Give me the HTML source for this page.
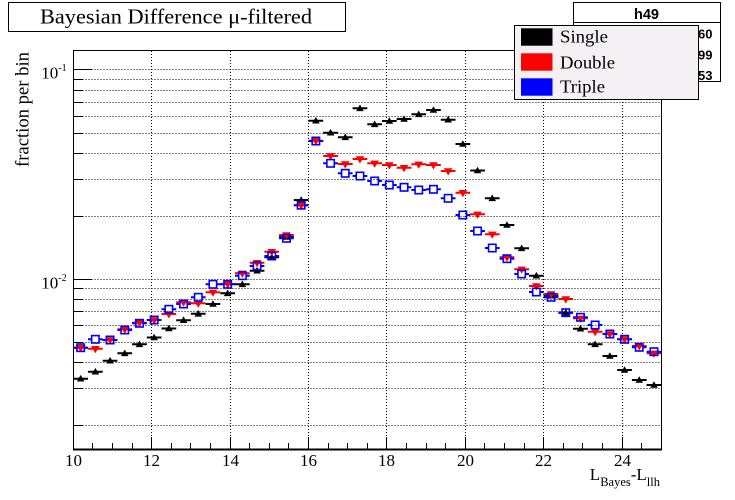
<!DOCTYPE html>
<html><head><meta charset="utf-8"><style>
html,body{margin:0;padding:0;background:#fff;}
svg{display:block;}
</style></head><body>
<svg width="735" height="500" viewBox="0 0 735 500" xmlns="http://www.w3.org/2000/svg">
<defs>
<path id="tu" d="M0-3.8L3.8 2.8H-3.8Z" fill="#000"/>
<path id="td" d="M0 4.5L4.3-2.7H-4.3Z" fill="#f00"/>
<rect id="sq" x="-3.7" y="-3.7" width="7.4" height="7.4" fill="none" stroke="#00f" stroke-width="1.6"/>
</defs>
<rect width="735" height="500" fill="#fff"/>
<!-- grid -->
<g stroke="#000" stroke-width="1" stroke-dasharray="1 2" fill="none">
<path d="M73.5 425.5H661M73.5 388.5H661M73.5 362.5H661M73.5 342.5H661M73.5 325.5H661M73.5 311.5H661M73.5 299.5H661M73.5 288.5H661M73.5 279.5H661M73.5 216.5H661M73.5 179.5H661M73.5 153.5H661M73.5 133.5H661M73.5 116.5H661M73.5 102.5H661M73.5 90.5H661M73.5 79.5H661M73.5 69.5H661"/>
<path d="M151.5 51V449M230.5 51V449M308.5 51V449M386.5 51V449M465.5 51V449M543.5 51V449M622.5 51V449"/>
</g>
<!-- frame -->
<rect x="73.5" y="50.5" width="588" height="399" fill="none" stroke="#000" stroke-width="1"/>
<path d="M73 449.5H662" stroke="#000" stroke-width="2"/>
<!-- y ticks -->
<g stroke="#000" stroke-width="1">
<path d="M73.5 279.5H91.5M73.5 69.5H91.5"/>
<path d="M73.5 425.5H83.5M73.5 388.5H83.5M73.5 362.5H83.5M73.5 342.5H83.5M73.5 325.5H83.5M73.5 311.5H83.5M73.5 299.5H83.5M73.5 288.5H83.5M73.5 216.5H83.5M73.5 179.5H83.5M73.5 153.5H83.5M73.5 133.5H83.5M73.5 116.5H83.5M73.5 102.5H83.5M73.5 90.5H83.5M73.5 79.5H83.5"/>
<!-- x ticks -->
<path d="M151.5 449V437M230.5 449V437M308.5 449V437M386.5 449V437M465.5 449V437M543.5 449V437M622.5 449V437"/>
<path d="M92.5 449V443M112.5 449V443M132.5 449V443M171.5 449V443M190.5 449V443M210.5 449V443M249.5 449V443M269.5 449V443M288.5 449V443M328.5 449V443M347.5 449V443M367.5 449V443M406.5 449V443M426.5 449V443M445.5 449V443M484.5 449V443M504.5 449V443M524.5 449V443M563.5 449V443M582.5 449V443M602.5 449V443M641.5 449V443"/>
</g>
<!-- black series -->
<path stroke="#000" stroke-width="2" fill="none" d="M73.3 378.7h14.7M88 371.7h14.7M102.7 360.7h14.7M117.4 353.3h14.7M132.1 344.3h14.7M146.8 337.5h14.7M161.5 328.5h14.7M176.2 320.2h14.7M190.9 313.8h14.7M205.6 304h14.7M220.3 293.3h14.7M235 284.3h14.7M249.7 270.7h14.7M264.4 257.3h14.7M279.1 237h14.7M293.8 200h14.7M308.5 120.7h14.7M323.2 132.7h14.7M337.9 137.3h14.7M352.6 108.3h14.7M367.3 124.3h14.7M382 121h14.7M396.7 119h14.7M411.4 114.3h14.7M426.1 110h14.7M440.8 119.7h14.7M455.5 144h14.7M470.2 170.5h14.7M484.9 198.3h14.7M499.6 225h14.7M514.3 248.3h14.7M529 275.7h14.7M543.7 295.7h14.7M558.4 312.7h14.7M573.1 328.7h14.7M587.8 344.3h14.7M602.5 356h14.7M617.2 370h14.7M631.9 380h14.7M646.6 385h14.7"/>
<g>
<use href="#tu" x="80.65" y="378.7"/><use href="#tu" x="95.35" y="371.7"/><use href="#tu" x="110.05" y="360.7"/><use href="#tu" x="124.75" y="353.3"/><use href="#tu" x="139.45" y="344.3"/><use href="#tu" x="154.15" y="337.5"/><use href="#tu" x="168.85" y="328.5"/><use href="#tu" x="183.55" y="320.2"/><use href="#tu" x="198.25" y="313.8"/><use href="#tu" x="212.95" y="304"/><use href="#tu" x="227.65" y="293.3"/><use href="#tu" x="242.35" y="284.3"/><use href="#tu" x="257.05" y="270.7"/><use href="#tu" x="271.75" y="257.3"/><use href="#tu" x="286.45" y="237"/><use href="#tu" x="301.15" y="200"/><use href="#tu" x="315.85" y="120.7"/><use href="#tu" x="330.55" y="132.7"/><use href="#tu" x="345.25" y="137.3"/><use href="#tu" x="359.95" y="108.3"/><use href="#tu" x="374.65" y="124.3"/><use href="#tu" x="389.35" y="121"/><use href="#tu" x="404.05" y="119"/><use href="#tu" x="418.75" y="114.3"/><use href="#tu" x="433.45" y="110"/><use href="#tu" x="448.15" y="119.7"/><use href="#tu" x="462.85" y="144"/><use href="#tu" x="477.55" y="170.5"/><use href="#tu" x="492.25" y="198.3"/><use href="#tu" x="506.95" y="225"/><use href="#tu" x="521.65" y="248.3"/><use href="#tu" x="536.35" y="275.7"/><use href="#tu" x="551.05" y="295.7"/><use href="#tu" x="565.75" y="312.7"/><use href="#tu" x="580.45" y="328.7"/><use href="#tu" x="595.15" y="344.3"/><use href="#tu" x="609.85" y="356"/><use href="#tu" x="624.55" y="370"/><use href="#tu" x="639.25" y="380"/><use href="#tu" x="653.95" y="385"/>
</g>
<!-- red series -->
<path stroke="#f00" stroke-width="2" fill="none" d="M73.3 347.7h14.7M88 348.7h14.7M102.7 340h14.7M117.4 329.3h14.7M132.1 322.7h14.7M146.8 320h14.7M161.5 314h14.7M176.2 302.3h14.7M190.9 303.2h14.7M205.6 292.3h14.7M220.3 284h14.7M235 273.3h14.7M249.7 262.7h14.7M264.4 251.7h14.7M279.1 235h14.7M293.8 205.3h14.7M308.5 140.7h14.7M323.2 156h14.7M337.9 164h14.7M352.6 159h14.7M367.3 163.3h14.7M382 165h14.7M396.7 167.7h14.7M411.4 164.3h14.7M426.1 165h14.7M440.8 171h14.7M455.5 192.7h14.7M470.2 214.3h14.7M484.9 234.3h14.7M499.6 257.3h14.7M514.3 269.3h14.7M529 286h14.7M543.7 294h14.7M558.4 299h14.7M573.1 318.3h14.7M587.8 331.7h14.7M602.5 334h14.7M617.2 339.3h14.7M631.9 346h14.7M646.6 353.3h14.7"/>
<g>
<use href="#td" x="80.65" y="347.7"/><use href="#td" x="95.35" y="348.7"/><use href="#td" x="110.05" y="340"/><use href="#td" x="124.75" y="329.3"/><use href="#td" x="139.45" y="322.7"/><use href="#td" x="154.15" y="320"/><use href="#td" x="168.85" y="314"/><use href="#td" x="183.55" y="302.3"/><use href="#td" x="198.25" y="303.2"/><use href="#td" x="212.95" y="292.3"/><use href="#td" x="227.65" y="284"/><use href="#td" x="242.35" y="273.3"/><use href="#td" x="257.05" y="262.7"/><use href="#td" x="271.75" y="251.7"/><use href="#td" x="286.45" y="235"/><use href="#td" x="301.15" y="205.3"/><use href="#td" x="315.85" y="140.7"/><use href="#td" x="330.55" y="156"/><use href="#td" x="345.25" y="164"/><use href="#td" x="359.95" y="159"/><use href="#td" x="374.65" y="163.3"/><use href="#td" x="389.35" y="165"/><use href="#td" x="404.05" y="167.7"/><use href="#td" x="418.75" y="164.3"/><use href="#td" x="433.45" y="165"/><use href="#td" x="448.15" y="171"/><use href="#td" x="462.85" y="192.7"/><use href="#td" x="477.55" y="214.3"/><use href="#td" x="492.25" y="234.3"/><use href="#td" x="506.95" y="257.3"/><use href="#td" x="521.65" y="269.3"/><use href="#td" x="536.35" y="286"/><use href="#td" x="551.05" y="294"/><use href="#td" x="565.75" y="299"/><use href="#td" x="580.45" y="318.3"/><use href="#td" x="595.15" y="331.7"/><use href="#td" x="609.85" y="334"/><use href="#td" x="624.55" y="339.3"/><use href="#td" x="639.25" y="346"/><use href="#td" x="653.95" y="353.3"/>
</g>
<!-- blue series -->
<path stroke="#00f" stroke-width="2" fill="none" d="M73.3 347.7h3.1m8.5 0h3.1M88 339.3h3.1m8.5 0h3.1M102.7 340h3.1m8.5 0h3.1M117.4 330h3.1m8.5 0h3.1M132.1 323.3h3.1m8.5 0h3.1M146.8 320h3.1m8.5 0h3.1M161.5 309.3h3.1m8.5 0h3.1M176.2 304h3.1m8.5 0h3.1M190.9 297.3h3.1m8.5 0h3.1M205.6 284.3h3.1m8.5 0h3.1M220.3 284.3h3.1m8.5 0h3.1M235 275.7h3.1m8.5 0h3.1M249.7 266h3.1m8.5 0h3.1M264.4 256h3.1m8.5 0h3.1M279.1 238.3h3.1m8.5 0h3.1M293.8 205.2h3.1m8.5 0h3.1M308.5 141h3.1m8.5 0h3.1M323.2 163.3h3.1m8.5 0h3.1M337.9 173.3h3.1m8.5 0h3.1M352.6 176h3.1m8.5 0h3.1M367.3 181h3.1m8.5 0h3.1M382 185h3.1m8.5 0h3.1M396.7 187.3h3.1m8.5 0h3.1M411.4 190h3.1m8.5 0h3.1M426.1 189.3h3.1m8.5 0h3.1M440.8 198.3h3.1m8.5 0h3.1M455.5 215h3.1m8.5 0h3.1M470.2 231h3.1m8.5 0h3.1M484.9 248h3.1m8.5 0h3.1M499.6 258.7h3.1m8.5 0h3.1M514.3 274h3.1m8.5 0h3.1M529 292h3.1m8.5 0h3.1M543.7 297.3h3.1m8.5 0h3.1M558.4 312.7h3.1m8.5 0h3.1M573.1 317.3h3.1m8.5 0h3.1M587.8 325h3.1m8.5 0h3.1M602.5 334h3.1m8.5 0h3.1M617.2 339.3h3.1m8.5 0h3.1M631.9 347.3h3.1m8.5 0h3.1M646.6 351.7h3.1m8.5 0h3.1"/>
<g>
<use href="#sq" x="80.65" y="347.7"/><use href="#sq" x="95.35" y="339.3"/><use href="#sq" x="110.05" y="340"/><use href="#sq" x="124.75" y="330"/><use href="#sq" x="139.45" y="323.3"/><use href="#sq" x="154.15" y="320"/><use href="#sq" x="168.85" y="309.3"/><use href="#sq" x="183.55" y="304"/><use href="#sq" x="198.25" y="297.3"/><use href="#sq" x="212.95" y="284.3"/><use href="#sq" x="227.65" y="284.3"/><use href="#sq" x="242.35" y="275.7"/><use href="#sq" x="257.05" y="266"/><use href="#sq" x="271.75" y="256"/><use href="#sq" x="286.45" y="238.3"/><use href="#sq" x="301.15" y="205.2"/><use href="#sq" x="315.85" y="141"/><use href="#sq" x="330.55" y="163.3"/><use href="#sq" x="345.25" y="173.3"/><use href="#sq" x="359.95" y="176"/><use href="#sq" x="374.65" y="181"/><use href="#sq" x="389.35" y="185"/><use href="#sq" x="404.05" y="187.3"/><use href="#sq" x="418.75" y="190"/><use href="#sq" x="433.45" y="189.3"/><use href="#sq" x="448.15" y="198.3"/><use href="#sq" x="462.85" y="215"/><use href="#sq" x="477.55" y="231"/><use href="#sq" x="492.25" y="248"/><use href="#sq" x="506.95" y="258.7"/><use href="#sq" x="521.65" y="274"/><use href="#sq" x="536.35" y="292"/><use href="#sq" x="551.05" y="297.3"/><use href="#sq" x="565.75" y="312.7"/><use href="#sq" x="580.45" y="317.3"/><use href="#sq" x="595.15" y="325"/><use href="#sq" x="609.85" y="334"/><use href="#sq" x="624.55" y="339.3"/><use href="#sq" x="639.25" y="347.3"/><use href="#sq" x="653.95" y="351.7"/>
</g>
<!-- axis labels -->
<g font-family="'Liberation Serif', serif" fill="#000">
<g font-size="17" text-anchor="middle">
<text x="73.5" y="466">10</text><text x="151.5" y="466">12</text><text x="230.5" y="466">14</text><text x="308.5" y="466">16</text><text x="386.5" y="466">18</text><text x="465.5" y="466">20</text><text x="543.5" y="466">22</text><text x="622.5" y="466">24</text>
</g>
<text x="58.3" y="78.5" font-size="17" text-anchor="end">10</text>
<text x="58.3" y="71" font-size="10">-1</text>
<text x="58.3" y="288.5" font-size="17" text-anchor="end">10</text>
<text x="58.3" y="281" font-size="10">-2</text>
<text transform="translate(28.5,52) rotate(-90)" font-size="18.5" text-anchor="end" textLength="115" lengthAdjust="spacingAndGlyphs">fraction per bin</text>
<text x="660" y="480" font-size="17" text-anchor="end">L<tspan font-size="12.5" dy="6">Bayes</tspan><tspan dy="-6">-L</tspan><tspan font-size="12.5" dy="6">llh</tspan></text>
</g>
<!-- title box -->
<rect x="8.5" y="2.5" width="337" height="29" fill="#fff" stroke="#000" stroke-width="1"/>
<text x="176" y="23.5" font-family="'Liberation Serif', serif" font-size="21.5" text-anchor="middle" textLength="272" lengthAdjust="spacingAndGlyphs">Bayesian Difference μ-filtered</text>
<!-- stats box -->
<rect x="573.5" y="2.5" width="147" height="79" fill="#fff" stroke="#000" stroke-width="1"/>
<path d="M573.5 22.5H720.5" stroke="#000" stroke-width="1"/>
<g font-family="'Liberation Sans', sans-serif" font-weight="bold" fill="#000">
<text x="646.5" y="19" font-size="14.5" text-anchor="middle">h49</text>
<text x="578" y="38.3" font-size="13">Entries</text><text x="712.5" y="38.3" font-size="13" text-anchor="end">12560</text>
<text x="578" y="59.5" font-size="13">Mean</text><text x="712.5" y="59.5" font-size="13" text-anchor="end">17.99</text>
<text x="578" y="80" font-size="13">RMS</text><text x="712.5" y="80" font-size="13" text-anchor="end">2.053</text>
</g>
<!-- legend -->
<rect x="514.5" y="25.5" width="184" height="74" fill="#f4f0f4" stroke="#000" stroke-width="1"/>
<rect x="521" y="28.3" width="31.5" height="17.4" fill="#000"/>
<rect x="521" y="53.3" width="31.5" height="17.4" fill="#f00"/>
<rect x="521" y="78.3" width="31.5" height="17.4" fill="#00f"/>
<g font-family="'Liberation Serif', serif" font-size="18" fill="#000">
<text x="560" y="42.5" textLength="48" lengthAdjust="spacingAndGlyphs">Single</text>
<text x="560" y="68.5" textLength="55" lengthAdjust="spacingAndGlyphs">Double</text>
<text x="560" y="92.5" textLength="45" lengthAdjust="spacingAndGlyphs">Triple</text>
</g>
</svg>
</body></html>
